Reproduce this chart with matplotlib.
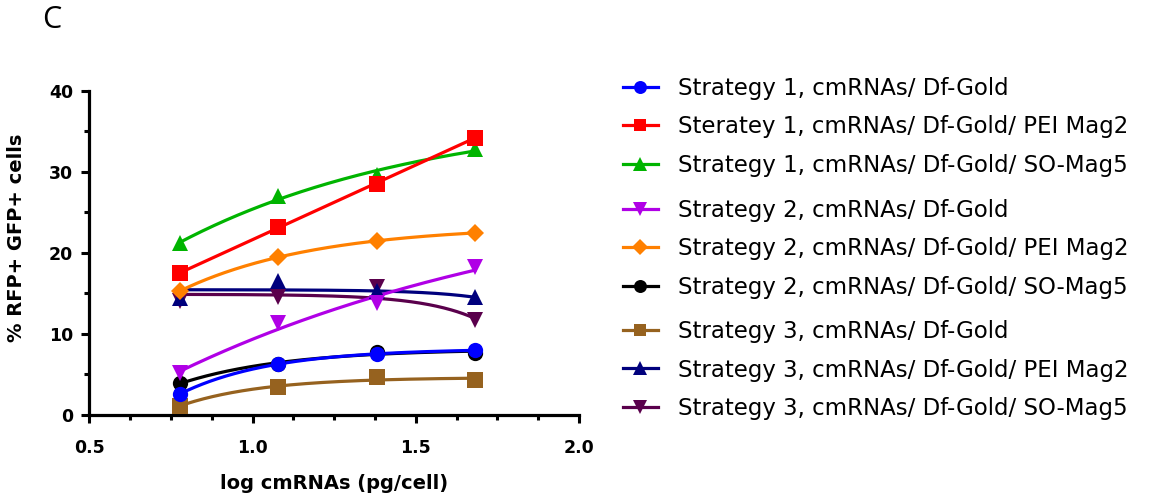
import numpy as np
import matplotlib
matplotlib.use('Agg')
import matplotlib.pyplot as plt
from matplotlib.ticker import MultipleLocator

# log10 of 6, 12, 24, 48 pg/cell
log_dose = [0.778, 1.079, 1.380, 1.681]

labels = [
    'Strategy 1, cmRNAs/ Df-Gold',
    'Steratey 1, cmRNAs/ Df-Gold/ PEI Mag2',
    'Strategy 1, cmRNAs/ Df-Gold/ SO-Mag5',
    'Strategy 2, cmRNAs/ Df-Gold',
    'Strategy 2, cmRNAs/ Df-Gold/ PEI Mag2',
    'Strategy 2, cmRNAs/ Df-Gold/ SO-Mag5',
    'Strategy 3, cmRNAs/ Df-Gold',
    'Strategy 3, cmRNAs/ Df-Gold/ PEI Mag2',
    'Strategy 3, cmRNAs/ Df-Gold/ SO-Mag5',
]

s1_gold = [2.6, 6.3, 7.5, 8.0]
s1_pei = [17.5, 23.2, 28.5, 34.2]
s1_so = [21.2, 27.0, 29.6, 32.8]
s2_gold = [5.2, 11.3, 13.8, 18.2]
s2_pei = [15.3, 19.5, 21.4, 22.5]
s2_so = [3.9, 6.3, 7.8, 7.7]
s3_gold = [1.15, 3.4, 4.7, 4.3]
s3_pei = [14.4, 16.5, 15.3, 14.5]
s3_so = [14.0, 14.5, 15.8, 11.7]

series = [s1_gold, s1_pei, s1_so, s2_gold, s2_pei, s2_so, s3_gold, s3_pei, s3_so]
colors = ['#0000ff', '#ff0000', '#00b400', '#b000e6', '#ff8000',
          '#000000', '#96621f', '#00007d', '#5a004c']
markers = ['o', 's', '^', 'v', 'D', 'o', 's', '^', 'v']
msizes = [11, 11, 12, 12, 9, 11, 11, 12, 12]


def exp_fit(x, y, xs):
    # y = a + b*exp(k*x), k picked on a grid, a and b by least squares
    best = None
    for k in np.linspace(-6, 6, 241):
        basis = x if abs(k) < 1e-9 else np.exp(k * x)
        A = np.column_stack([np.ones_like(x), basis])
        coef, *_ = np.linalg.lstsq(A, y, rcond=None)
        err = np.sum((A @ coef - y) ** 2)
        if best is None or err < best[0]:
            best = (err, k, coef)
    _, k, coef = best
    bs = xs if abs(k) < 1e-9 else np.exp(k * xs)
    return coef[0] + coef[1] * bs


plt.rcParams['font.family'] = ['DejaVu Sans']

fig = plt.figure(figsize=(11.64, 4.95), dpi=100)
ax = fig.add_axes([0.0767, 0.1616, 0.4207, 0.6552])

x = np.array(log_dose)
xs = np.linspace(x[0], x[-1], 200)
handles = []
for i in reversed(range(len(series))):
    y = np.array(series[i])
    ax.plot(xs, exp_fit(x, y, xs), color=colors[i], lw=2.3, zorder=2)
    ax.plot(x, y, linestyle='none', marker=markers[i], ms=msizes[i],
            color=colors[i], markeredgewidth=0, zorder=3)

for i in range(len(series)):
    h, = ax.plot([], [], color=colors[i], lw=2.3, marker=markers[i],
                 ms=msizes[i] * 0.85, markeredgewidth=0)
    handles.append(h)

ax.set_xlim(0.5, 2.0)
ax.set_ylim(0, 40)
ax.xaxis.set_major_locator(MultipleLocator(0.5))
ax.xaxis.set_minor_locator(MultipleLocator(0.125))
ax.yaxis.set_major_locator(MultipleLocator(10))
ax.yaxis.set_minor_locator(MultipleLocator(5))
ax.set_xticks([0.5, 1.0, 1.5, 2.0], ['0.5', '1.0', '1.5', '2.0'])

for side in ['top', 'right']:
    ax.spines[side].set_visible(False)
for side in ['left', 'bottom']:
    ax.spines[side].set_linewidth(2.3)
ax.tick_params(which='major', length=5.5, width=2.2, labelsize=12.5)
ax.tick_params(which='minor', length=3.5, width=2.2)
ax.tick_params(axis='x', which='major', pad=12)
ax.tick_params(axis='y', which='major', pad=6)
for t in ax.get_xticklabels() + ax.get_yticklabels():
    t.set_fontweight('bold')

ax.set_xlabel('log cmRNAs (pg/cell)', fontsize=14, fontweight='bold', labelpad=12)
ax.set_ylabel('% RFP+ GFP+ cells', fontsize=14, fontweight='bold')
ax.yaxis.set_label_coords(-0.129, 0.546)

fig.text(52 / 1164, 1 - 20 / 495, 'C', fontsize=22, family='Open Sans',
         ha='center', va='center')

# three legend blocks, one per strategy
anchors = [1 - 126.7 / 495, 1 - 249 / 495, 1 - 370 / 495]
for g in range(3):
    fig.legend(handles[g * 3:g * 3 + 3], labels[g * 3:g * 3 + 3],
               loc='center left', bbox_to_anchor=(622.7 / 1164, anchors[g]),
               frameon=False, fontsize=16.5, borderpad=0, borderaxespad=0,
               handlelength=1.55, handletextpad=0.85, labelspacing=0.68)

fig.savefig('out.png', dpi=100)
